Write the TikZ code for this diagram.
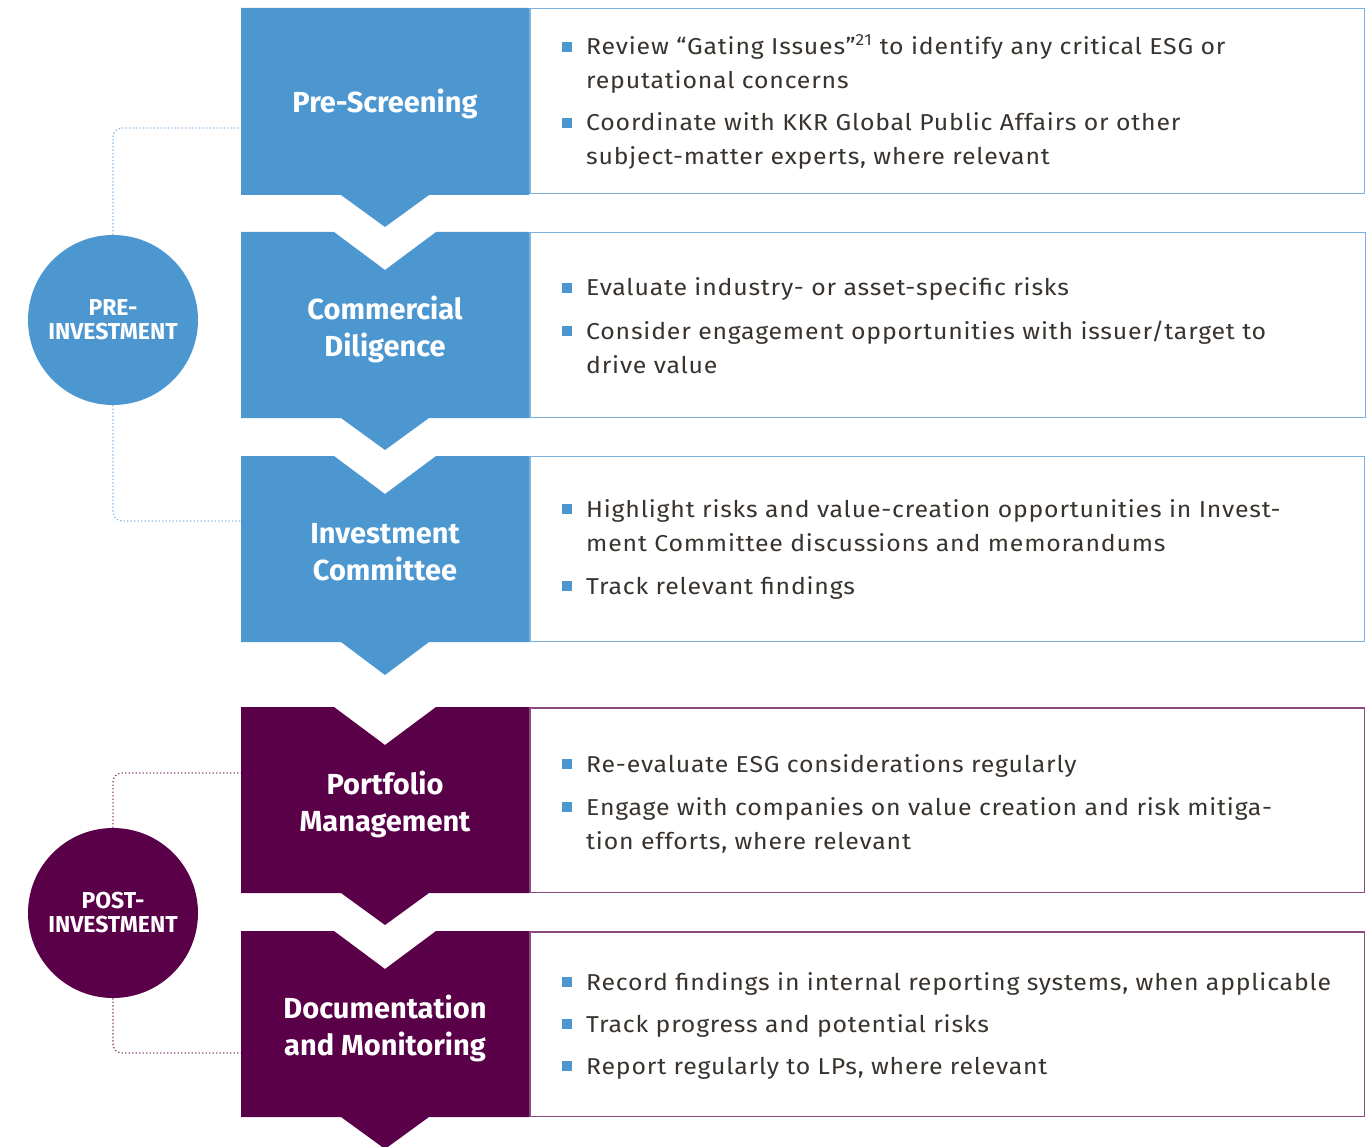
\documentclass[tikz,border=0pt]{standalone}
\usepackage{fontspec}
\setmainfont{Fira Sans}[FakeStretch=1.08, LetterSpace=3.5]
\newfontfamily\hdrfont{Fira Sans}
\definecolor{stepblue}{HTML}{4D97D1}
\definecolor{steppurple}{HTML}{5A0049}
\definecolor{lineblue}{HTML}{7DB1DF}
\definecolor{linepurple}{HTML}{8A4A7C}
\definecolor{dotblue}{HTML}{8DB9E2}
\definecolor{dotpurple}{HTML}{8A4A7C}
\definecolor{txtgray}{HTML}{38332E}
\newcommand{\lines}[1]{\begin{tabular}[t]{@{}l@{}}#1\end{tabular}}
\begin{document}
\begin{tikzpicture}[x=1pt,y=-1pt,
  hdr/.style={text=white, font=\hdrfont\bfseries\fontsize{29}{37}\selectfont, align=center, anchor=base, inner sep=0},
  body/.style={text=txtgray, font=\fontsize{23}{34}\selectfont, anchor=base west, inner sep=0},
  bul/.style={fill=stepblue, minimum size=10.5, inner sep=0},
  circ/.style={circle, minimum size=170, inner sep=0, text=white, font=\hdrfont\bfseries\fontsize{23}{24}\selectfont, align=center},
  panelblue/.style={draw=lineblue, line width=1.4},
  panelpurple/.style={draw=linepurple, line width=1.4},
  dotline/.style={line width=1.3, dash pattern=on 1.3 off 2.2, rounded corners=9}
]
\useasboundingbox (0,0) rectangle (1372,1147);
\begin{scope}
\clip (0,0) rectangle (1372,1147);
% colored step shapes
\fill[stepblue] (241,8) -- (529,8) -- (529,195) -- (429,195) -- (385,227) -- (341,195) -- (241,195) -- cycle;
\fill[stepblue] (241,232) -- (334,232) -- (385,270) -- (436,232) -- (529,232) -- (529,418) -- (429,418) -- (385,450) -- (341,418) -- (241,418) -- cycle;
\fill[stepblue] (241,456) -- (334,456) -- (385,494) -- (436,456) -- (529,456) -- (529,642) -- (429,642) -- (385,675) -- (341,642) -- (241,642) -- cycle;
\fill[steppurple] (241,707) -- (334,707) -- (385,745) -- (436,707) -- (529,707) -- (529,893) -- (429,893) -- (385,925) -- (341,893) -- (241,893) -- cycle;
\fill[steppurple] (241,931) -- (334,931) -- (385,969) -- (436,931) -- (529,931) -- (529,1117) -- (429,1117) -- (385,1149) -- (341,1117) -- (241,1117) -- cycle;
\end{scope}
% panels
\draw[panelblue] (530,8.5) rectangle (1364.5,193.5);
\draw[panelblue] (530,232.5) rectangle (1365.5,417.5);
\draw[panelblue] (530,456.5) rectangle (1364.5,641.5);
\draw[panelpurple] (530,708) rectangle (1364.5,892.5);
\draw[panelpurple] (530,932) rectangle (1364.5,1116.5);
% headers (anchored at the baseline of the last line)
\node[hdr] (h1) at (385,113) {Pre-Screening};
\node[hdr] (h2) at (385,356) {Commercial\\Diligence};
\node[hdr] (h3) at (385,580) {Investment\\Committee};
\node[hdr] (h4) at (385,831) {Portfolio\\Management};
\node[hdr] (h5) at (385,1055) {Documentation\\and Monitoring};
% circles
\node[circ, fill=stepblue] (pre) at (113,320) {PRE-\\INVESTMENT};
\node[circ, fill=steppurple] (post) at (113,913) {POST-\\INVESTMENT};
% dotted connectors
\coordinate (preA) at (241,128);
\coordinate (preB) at (241,521);
\coordinate (postA) at (241,773);
\coordinate (postB) at (241,1053);
\draw[dotline, draw=dotblue] (pre.north) |- (preA);
\draw[dotline, draw=dotblue] (pre.south) |- (preB);
\draw[dotline, draw=dotpurple] (post.north) |- (postA);
\draw[dotline, draw=dotpurple] (post.south) |- (postB);
% bullets and texts
\node[bul] (b11) at (567,47) {};
\node[body] (t11) at (586,55) {\lines{Review “Gating Issues”\textsuperscript{21} to identify any critical ESG or\\reputational concerns}};
\node[bul] (b12) at (567,123) {};
\node[body] (t12) at (586,131) {\lines{Coordinate with KKR Global Public Affairs or other\\subject-matter experts, where relevant}};
\node[bul] (b21) at (567,288) {};
\node[body] (t21) at (586,296) {Evaluate industry- or asset-specific risks};
\node[bul] (b22) at (567,331) {};
\node[body] (t22) at (586,339) {\lines{Consider engagement opportunities with issuer/target to\\drive value}};
\node[bul] (b31) at (567,509) {};
\node[body] (t31) at (586,517) {\lines{Highlight risks and value-creation opportunities in Invest-\\ment Committee discussions and memorandums}};
\node[bul] (b32) at (567,586) {};
\node[body] (t32) at (586,594) {Track relevant findings};
\node[bul] (b41) at (567,764) {};
\node[body] (t41) at (586,772) {Re-evaluate ESG considerations regularly};
\node[bul] (b42) at (567,807) {};
\node[body] (t42) at (586,815) {\lines{Engage with companies on value creation and risk mitiga-\\tion efforts, where relevant}};
\node[bul] (b51) at (567,982) {};
\node[body] (t51) at (586,990) {Record findings in internal reporting systems, when applicable};
\node[bul] (b52) at (567,1024) {};
\node[body] (t52) at (586,1032) {Track progress and potential risks};
\node[bul] (b53) at (567,1066) {};
\node[body] (t53) at (586,1074) {Report regularly to LPs, where relevant};
\end{tikzpicture}
\end{document}
